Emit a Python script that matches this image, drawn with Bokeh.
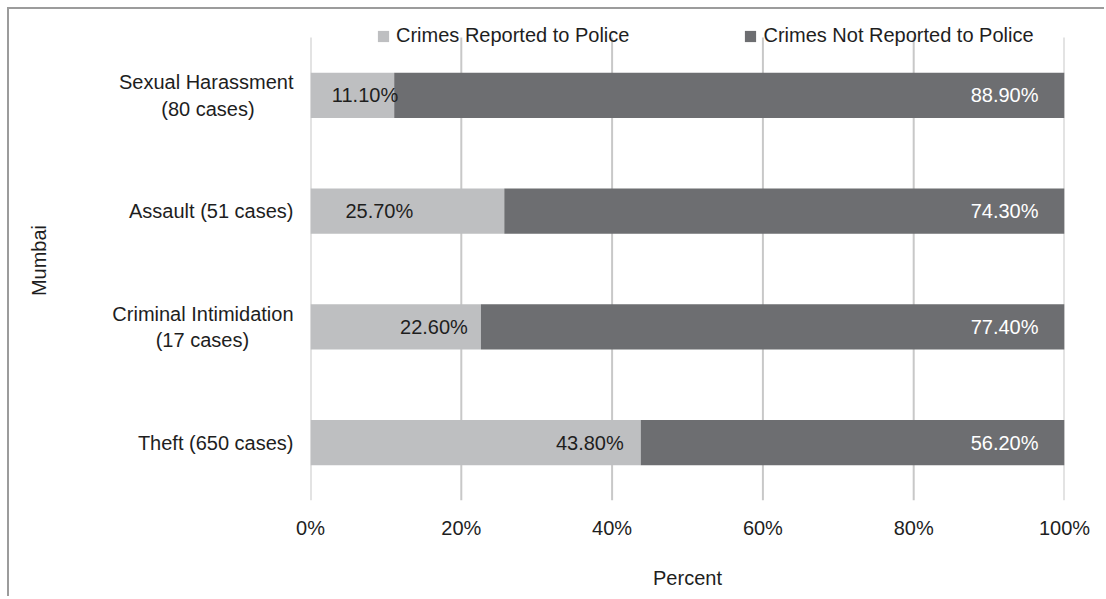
from bokeh.plotting import figure
from bokeh.models import (ColumnDataSource, FixedTicker, PrintfTickFormatter, Legend, LegendItem, Range1d)
from bokeh.core.properties import value
from bokeh.embed import file_html
from bokeh.resources import INLINE

# ---- data ----
NB = "\u00a0"
categories = ["Sexual Harassment\n(80 cases)" + NB * 7, "Assault (51 cases)",
              "Criminal Intimidation\n(17 cases)" + NB * 8, "Theft (650 cases)"]
reported = [11.1, 25.7, 22.6, 43.8]
not_reported = [88.9, 74.3, 77.4, 56.2]
series_names = ["Crimes Reported to Police", "Crimes Not Reported to Police"]
x_ticks = [0, 20, 40, 60, 80, 100]

# style: per-row nudge of the reported-label (pixels)
label_nudge_px = [4, -91, -13, -17]

FONT = "Liberation Sans"
FS = "20px"
LIGHT = "#bebfc1"
DARK = "#6d6e71"
TXT = "#1e1e1e"
BAR_H = 0.39
TOP_ROOM = 0.147  # extra room above the last row for the legend (in row units)

n = len(categories)
ypos = list(range(n))[::-1]  # first category on top

src = ColumnDataSource(dict(
    y=ypos,
    rep=reported,
    total=[r + q for r, q in zip(reported, not_reported)],
    rep_lbl=[f"{v:.2f}%" for v in reported],
    nrep_lbl=[f"{v:.2f}%" for v in not_reported],
    nudge=label_nudge_px,
))

p = figure(width=1097, height=589, output_backend="svg", toolbar_location=None,
           y_range=Range1d(-0.5, n - 0.5 + TOP_ROOM), x_range=Range1d(0, 100),
           min_border_left=301, min_border_right=42, min_border_top=11, min_border_bottom=98)
p.styles = {"border-left": "2px solid #9c9c9c", "border-top": "2px solid #9c9c9c",
            "margin-left": "7px", "margin-top": "7px"}
p.outline_line_color = None
p.background_fill_color = "white"
p.xgrid.grid_line_color = None
p.ygrid.grid_line_color = None

# vertical gridlines limited to the category band
p.segment(x0=x_ticks, x1=x_ticks, y0=[-0.5] * len(x_ticks), y1=[n - 0.5] * len(x_ticks),
          line_color="#c8c8c8", line_width=2)

r1 = p.hbar(y="y", left=0, right="rep", height=BAR_H, source=src,
            fill_color=LIGHT, line_color=None)
r2 = p.hbar(y="y", left="rep", right="total", height=BAR_H, source=src,
            fill_color=DARK, line_color=None)

p.text(x="rep", y="y", text="rep_lbl", source=src, x_offset="nudge",
       text_align="right", text_baseline="middle", text_color=TXT,
       text_font=value(FONT), text_font_size=FS)
p.text(x="total", y="y", text="nrep_lbl", source=src, x_offset=-26,
       text_align="right", text_baseline="middle", text_color="white",
       text_font=value(FONT), text_font_size=FS)

# axes
p.xaxis.ticker = FixedTicker(ticks=x_ticks)
p.xaxis.formatter = PrintfTickFormatter(format="%d%%")
p.xaxis.axis_line_color = None
p.xaxis.major_tick_line_color = None
p.xaxis.minor_tick_line_color = None
p.xaxis.major_tick_out = 0
p.xaxis.major_label_standoff = 16
p.xaxis.axis_label = "Percent"
p.xaxis.axis_label_standoff = 25
p.xaxis.axis_label_text_font_style = "normal"

p.yaxis.ticker = FixedTicker(ticks=ypos)
p.yaxis.major_label_overrides = {y: c for y, c in zip(ypos, categories)}
p.yaxis.axis_line_color = None
p.yaxis.major_tick_line_color = None
p.yaxis.minor_tick_line_color = None
p.yaxis.major_tick_out = 0
p.yaxis.major_label_standoff = 17
p.yaxis.axis_label = "Mumbai"
p.yaxis.axis_label_standoff = 59
p.yaxis.axis_label_text_font_style = "normal"

for ax in (p.xaxis, p.yaxis):
    ax.major_label_text_font = FONT
    ax.major_label_text_font_size = FS
    ax.major_label_text_color = TXT
    ax.axis_label_text_font = FONT
    ax.axis_label_text_font_size = FS
    ax.axis_label_text_color = TXT

legend = Legend(items=[LegendItem(label=series_names[0], renderers=[r1]),
                       LegendItem(label=series_names[1], renderers=[r2])],
                location=(66, 453), orientation="horizontal",
                border_line_color=None, background_fill_alpha=0,
                padding=0, margin=0, spacing=114, glyph_width=14, glyph_height=14,
                label_standoff=6, label_text_font=FONT, label_text_font_size=FS,
                label_text_color=TXT, label_height=20)
p.add_layout(legend, "center")

open("out.html", "w").write(file_html(p, INLINE))
